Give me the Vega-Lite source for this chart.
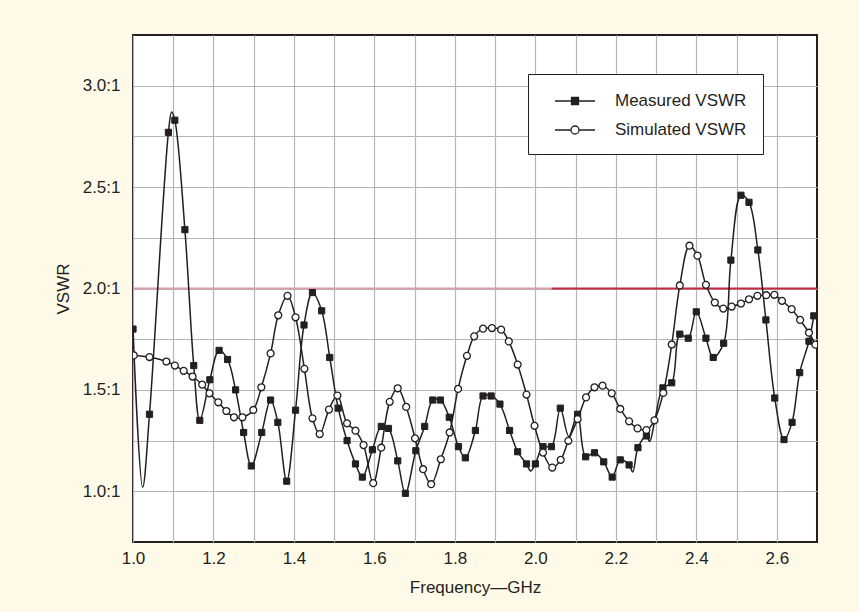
{
  "$schema": "https://vega.github.io/schema/vega-lite/v6.json",
  "width": 684,
  "height": 507,
  "autosize": "none",
  "padding": {"left": 133, "top": 35, "right": 42, "bottom": 70},
  "background": "#fffae8",
  "config": {
    "view": {"fill": "#ffffff", "stroke": "#231f20", "strokeWidth": 2},
    "font": "Liberation Sans",
    "axis": {
      "labelFont": "Liberation Sans",
      "titleFont": "Liberation Sans",
      "labelFontSize": 17,
      "titleFontSize": 17,
      "labelColor": "#231f20",
      "titleColor": "#231f20",
      "titleFontWeight": "normal",
      "domain": false,
      "ticks": false,
      "grid": true,
      "gridColor": "#b5b5b5",
      "gridWidth": 1.2,
      "gridOpacity": 1,
      "labelOverlap": false,
      "labelFlush": false
    }
  },
  "datasets": {
    "limit": [
      {"f": 1.0, "f2": 2.04, "part": "a"},
      {"f": 2.04, "f2": 2.7, "part": "b"}
    ],
    "vswr": [
      {"f": 1.000, "v": 1.80, "s": "Measured VSWR", "m": 1},
      {"f": 1.024, "v": 1.02, "s": "Measured VSWR", "m": 0},
      {"f": 1.041, "v": 1.38, "s": "Measured VSWR", "m": 1},
      {"f": 1.088, "v": 2.77, "s": "Measured VSWR", "m": 1},
      {"f": 1.096, "v": 2.87, "s": "Measured VSWR", "m": 0},
      {"f": 1.104, "v": 2.83, "s": "Measured VSWR", "m": 1},
      {"f": 1.129, "v": 2.29, "s": "Measured VSWR", "m": 1},
      {"f": 1.151, "v": 1.62, "s": "Measured VSWR", "m": 1},
      {"f": 1.166, "v": 1.35, "s": "Measured VSWR", "m": 1},
      {"f": 1.191, "v": 1.55, "s": "Measured VSWR", "m": 1},
      {"f": 1.214, "v": 1.695, "s": "Measured VSWR", "m": 1},
      {"f": 1.235, "v": 1.65, "s": "Measured VSWR", "m": 1},
      {"f": 1.255, "v": 1.50, "s": "Measured VSWR", "m": 1},
      {"f": 1.275, "v": 1.29, "s": "Measured VSWR", "m": 1},
      {"f": 1.294, "v": 1.125, "s": "Measured VSWR", "m": 1},
      {"f": 1.320, "v": 1.29, "s": "Measured VSWR", "m": 1},
      {"f": 1.342, "v": 1.45, "s": "Measured VSWR", "m": 1},
      {"f": 1.360, "v": 1.34, "s": "Measured VSWR", "m": 1},
      {"f": 1.382, "v": 1.05, "s": "Measured VSWR", "m": 1},
      {"f": 1.404, "v": 1.40, "s": "Measured VSWR", "m": 1},
      {"f": 1.425, "v": 1.82, "s": "Measured VSWR", "m": 1},
      {"f": 1.446, "v": 1.98, "s": "Measured VSWR", "m": 1},
      {"f": 1.469, "v": 1.89, "s": "Measured VSWR", "m": 1},
      {"f": 1.489, "v": 1.66, "s": "Measured VSWR", "m": 1},
      {"f": 1.510, "v": 1.41, "s": "Measured VSWR", "m": 1},
      {"f": 1.532, "v": 1.25, "s": "Measured VSWR", "m": 1},
      {"f": 1.553, "v": 1.135, "s": "Measured VSWR", "m": 1},
      {"f": 1.570, "v": 1.07, "s": "Measured VSWR", "m": 1},
      {"f": 1.595, "v": 1.205, "s": "Measured VSWR", "m": 1},
      {"f": 1.617, "v": 1.32, "s": "Measured VSWR", "m": 1},
      {"f": 1.635, "v": 1.31, "s": "Measured VSWR", "m": 1},
      {"f": 1.658, "v": 1.15, "s": "Measured VSWR", "m": 1},
      {"f": 1.677, "v": 0.99, "s": "Measured VSWR", "m": 1},
      {"f": 1.703, "v": 1.20, "s": "Measured VSWR", "m": 1},
      {"f": 1.725, "v": 1.32, "s": "Measured VSWR", "m": 1},
      {"f": 1.745, "v": 1.45, "s": "Measured VSWR", "m": 1},
      {"f": 1.764, "v": 1.45, "s": "Measured VSWR", "m": 1},
      {"f": 1.786, "v": 1.365, "s": "Measured VSWR", "m": 1},
      {"f": 1.809, "v": 1.22, "s": "Measured VSWR", "m": 1},
      {"f": 1.826, "v": 1.165, "s": "Measured VSWR", "m": 1},
      {"f": 1.851, "v": 1.30, "s": "Measured VSWR", "m": 1},
      {"f": 1.870, "v": 1.47, "s": "Measured VSWR", "m": 1},
      {"f": 1.890, "v": 1.47, "s": "Measured VSWR", "m": 1},
      {"f": 1.912, "v": 1.43, "s": "Measured VSWR", "m": 1},
      {"f": 1.936, "v": 1.30, "s": "Measured VSWR", "m": 1},
      {"f": 1.956, "v": 1.195, "s": "Measured VSWR", "m": 1},
      {"f": 1.978, "v": 1.135, "s": "Measured VSWR", "m": 1},
      {"f": 1.988, "v": 1.10, "s": "Measured VSWR", "m": 0},
      {"f": 2.000, "v": 1.135, "s": "Measured VSWR", "m": 1},
      {"f": 2.019, "v": 1.22, "s": "Measured VSWR", "m": 1},
      {"f": 2.040, "v": 1.22, "s": "Measured VSWR", "m": 1},
      {"f": 2.062, "v": 1.41, "s": "Measured VSWR", "m": 1},
      {"f": 2.083, "v": 1.27, "s": "Measured VSWR", "m": 0},
      {"f": 2.105, "v": 1.38, "s": "Measured VSWR", "m": 1},
      {"f": 2.125, "v": 1.17, "s": "Measured VSWR", "m": 1},
      {"f": 2.147, "v": 1.19, "s": "Measured VSWR", "m": 1},
      {"f": 2.170, "v": 1.145, "s": "Measured VSWR", "m": 1},
      {"f": 2.191, "v": 1.07, "s": "Measured VSWR", "m": 1},
      {"f": 2.211, "v": 1.155, "s": "Measured VSWR", "m": 1},
      {"f": 2.233, "v": 1.13, "s": "Measured VSWR", "m": 1},
      {"f": 2.242, "v": 1.095, "s": "Measured VSWR", "m": 0},
      {"f": 2.255, "v": 1.215, "s": "Measured VSWR", "m": 1},
      {"f": 2.276, "v": 1.273, "s": "Measured VSWR", "m": 1},
      {"f": 2.284, "v": 1.245, "s": "Measured VSWR", "m": 0},
      {"f": 2.297, "v": 1.35, "s": "Measured VSWR", "m": 0},
      {"f": 2.317, "v": 1.51, "s": "Measured VSWR", "m": 1},
      {"f": 2.339, "v": 1.535, "s": "Measured VSWR", "m": 1},
      {"f": 2.359, "v": 1.775, "s": "Measured VSWR", "m": 1},
      {"f": 2.380, "v": 1.755, "s": "Measured VSWR", "m": 1},
      {"f": 2.400, "v": 1.885, "s": "Measured VSWR", "m": 1},
      {"f": 2.424, "v": 1.755, "s": "Measured VSWR", "m": 1},
      {"f": 2.442, "v": 1.66, "s": "Measured VSWR", "m": 1},
      {"f": 2.468, "v": 1.73, "s": "Measured VSWR", "m": 1},
      {"f": 2.486, "v": 2.14, "s": "Measured VSWR", "m": 1},
      {"f": 2.511, "v": 2.46, "s": "Measured VSWR", "m": 1},
      {"f": 2.531, "v": 2.425, "s": "Measured VSWR", "m": 1},
      {"f": 2.553, "v": 2.19, "s": "Measured VSWR", "m": 1},
      {"f": 2.573, "v": 1.845, "s": "Measured VSWR", "m": 1},
      {"f": 2.595, "v": 1.46, "s": "Measured VSWR", "m": 1},
      {"f": 2.618, "v": 1.255, "s": "Measured VSWR", "m": 1},
      {"f": 2.638, "v": 1.34, "s": "Measured VSWR", "m": 1},
      {"f": 2.657, "v": 1.585, "s": "Measured VSWR", "m": 1},
      {"f": 2.680, "v": 1.74, "s": "Measured VSWR", "m": 1},
      {"f": 2.692, "v": 1.865, "s": "Measured VSWR", "m": 1},
      {"f": 1.002, "v": 1.67, "s": "Simulated VSWR", "m": 1},
      {"f": 1.041, "v": 1.662, "s": "Simulated VSWR", "m": 1},
      {"f": 1.083, "v": 1.64, "s": "Simulated VSWR", "m": 1},
      {"f": 1.104, "v": 1.62, "s": "Simulated VSWR", "m": 1},
      {"f": 1.126, "v": 1.594, "s": "Simulated VSWR", "m": 1},
      {"f": 1.148, "v": 1.566, "s": "Simulated VSWR", "m": 1},
      {"f": 1.172, "v": 1.526, "s": "Simulated VSWR", "m": 1},
      {"f": 1.190, "v": 1.483, "s": "Simulated VSWR", "m": 1},
      {"f": 1.212, "v": 1.439, "s": "Simulated VSWR", "m": 1},
      {"f": 1.232, "v": 1.396, "s": "Simulated VSWR", "m": 1},
      {"f": 1.251, "v": 1.365, "s": "Simulated VSWR", "m": 1},
      {"f": 1.272, "v": 1.365, "s": "Simulated VSWR", "m": 1},
      {"f": 1.299, "v": 1.401, "s": "Simulated VSWR", "m": 1},
      {"f": 1.319, "v": 1.513, "s": "Simulated VSWR", "m": 1},
      {"f": 1.342, "v": 1.68, "s": "Simulated VSWR", "m": 1},
      {"f": 1.361, "v": 1.868, "s": "Simulated VSWR", "m": 1},
      {"f": 1.384, "v": 1.964, "s": "Simulated VSWR", "m": 1},
      {"f": 1.404, "v": 1.858, "s": "Simulated VSWR", "m": 1},
      {"f": 1.426, "v": 1.604, "s": "Simulated VSWR", "m": 1},
      {"f": 1.446, "v": 1.36, "s": "Simulated VSWR", "m": 1},
      {"f": 1.464, "v": 1.282, "s": "Simulated VSWR", "m": 1},
      {"f": 1.487, "v": 1.403, "s": "Simulated VSWR", "m": 1},
      {"f": 1.508, "v": 1.472, "s": "Simulated VSWR", "m": 1},
      {"f": 1.532, "v": 1.335, "s": "Simulated VSWR", "m": 1},
      {"f": 1.553, "v": 1.299, "s": "Simulated VSWR", "m": 1},
      {"f": 1.573, "v": 1.228, "s": "Simulated VSWR", "m": 1},
      {"f": 1.597, "v": 1.04, "s": "Simulated VSWR", "m": 1},
      {"f": 1.617, "v": 1.215, "s": "Simulated VSWR", "m": 1},
      {"f": 1.638, "v": 1.441, "s": "Simulated VSWR", "m": 1},
      {"f": 1.658, "v": 1.508, "s": "Simulated VSWR", "m": 1},
      {"f": 1.679, "v": 1.416, "s": "Simulated VSWR", "m": 1},
      {"f": 1.701, "v": 1.261, "s": "Simulated VSWR", "m": 1},
      {"f": 1.721, "v": 1.109, "s": "Simulated VSWR", "m": 1},
      {"f": 1.741, "v": 1.035, "s": "Simulated VSWR", "m": 1},
      {"f": 1.765, "v": 1.158, "s": "Simulated VSWR", "m": 1},
      {"f": 1.787, "v": 1.29, "s": "Simulated VSWR", "m": 1},
      {"f": 1.808, "v": 1.505, "s": "Simulated VSWR", "m": 1},
      {"f": 1.830, "v": 1.668, "s": "Simulated VSWR", "m": 1},
      {"f": 1.848, "v": 1.764, "s": "Simulated VSWR", "m": 1},
      {"f": 1.870, "v": 1.802, "s": "Simulated VSWR", "m": 1},
      {"f": 1.892, "v": 1.805, "s": "Simulated VSWR", "m": 1},
      {"f": 1.915, "v": 1.797, "s": "Simulated VSWR", "m": 1},
      {"f": 1.934, "v": 1.739, "s": "Simulated VSWR", "m": 1},
      {"f": 1.956, "v": 1.625, "s": "Simulated VSWR", "m": 1},
      {"f": 1.978, "v": 1.477, "s": "Simulated VSWR", "m": 1},
      {"f": 1.998, "v": 1.323, "s": "Simulated VSWR", "m": 1},
      {"f": 2.019, "v": 1.191, "s": "Simulated VSWR", "m": 1},
      {"f": 2.042, "v": 1.117, "s": "Simulated VSWR", "m": 1},
      {"f": 2.063, "v": 1.155, "s": "Simulated VSWR", "m": 1},
      {"f": 2.082, "v": 1.249, "s": "Simulated VSWR", "m": 1},
      {"f": 2.105, "v": 1.356, "s": "Simulated VSWR", "m": 1},
      {"f": 2.126, "v": 1.463, "s": "Simulated VSWR", "m": 1},
      {"f": 2.147, "v": 1.513, "s": "Simulated VSWR", "m": 1},
      {"f": 2.167, "v": 1.521, "s": "Simulated VSWR", "m": 1},
      {"f": 2.190, "v": 1.483, "s": "Simulated VSWR", "m": 1},
      {"f": 2.211, "v": 1.406, "s": "Simulated VSWR", "m": 1},
      {"f": 2.233, "v": 1.345, "s": "Simulated VSWR", "m": 1},
      {"f": 2.254, "v": 1.31, "s": "Simulated VSWR", "m": 1},
      {"f": 2.276, "v": 1.302, "s": "Simulated VSWR", "m": 1},
      {"f": 2.296, "v": 1.35, "s": "Simulated VSWR", "m": 1},
      {"f": 2.318, "v": 1.485, "s": "Simulated VSWR", "m": 1},
      {"f": 2.339, "v": 1.724, "s": "Simulated VSWR", "m": 1},
      {"f": 2.359, "v": 2.015, "s": "Simulated VSWR", "m": 1},
      {"f": 2.383, "v": 2.211, "s": "Simulated VSWR", "m": 1},
      {"f": 2.403, "v": 2.162, "s": "Simulated VSWR", "m": 1},
      {"f": 2.424, "v": 2.018, "s": "Simulated VSWR", "m": 1},
      {"f": 2.446, "v": 1.931, "s": "Simulated VSWR", "m": 1},
      {"f": 2.467, "v": 1.901, "s": "Simulated VSWR", "m": 1},
      {"f": 2.488, "v": 1.911, "s": "Simulated VSWR", "m": 1},
      {"f": 2.511, "v": 1.926, "s": "Simulated VSWR", "m": 1},
      {"f": 2.531, "v": 1.947, "s": "Simulated VSWR", "m": 1},
      {"f": 2.552, "v": 1.964, "s": "Simulated VSWR", "m": 1},
      {"f": 2.574, "v": 1.967, "s": "Simulated VSWR", "m": 1},
      {"f": 2.594, "v": 1.969, "s": "Simulated VSWR", "m": 1},
      {"f": 2.613, "v": 1.939, "s": "Simulated VSWR", "m": 1},
      {"f": 2.637, "v": 1.898, "s": "Simulated VSWR", "m": 1},
      {"f": 2.658, "v": 1.845, "s": "Simulated VSWR", "m": 1},
      {"f": 2.680, "v": 1.782, "s": "Simulated VSWR", "m": 1},
      {"f": 2.696, "v": 1.723, "s": "Simulated VSWR", "m": 1}
    ]
  },
  "layer": [
    {
      "data": {"name": "limit"},
      "mark": {"type": "rule", "strokeWidth": 2},
      "encoding": {
        "x": {
          "field": "f", "type": "quantitative",
          "scale": {"domain": [1.0, 2.7], "nice": false, "zero": false},
          "axis": {
            "title": "Frequency—GHz",
            "grid": true,
            "values": [1.0, 1.1, 1.2, 1.3, 1.4, 1.5, 1.6, 1.7, 1.8, 1.9, 2.0, 2.1, 2.2, 2.3, 2.4, 2.5, 2.6],
            "labelExpr": "round(datum.value * 10) % 2 == 0 ? format(datum.value, '.1f') : ''",
            "labelPadding": 8,
            "titlePadding": 13
          }
        },
        "x2": {"field": "f2"},
        "y": {
          "datum": 2, "type": "quantitative",
          "scale": {"domain": [0.75, 3.25], "nice": false, "zero": false},
          "axis": {
            "title": "VSWR",
            "grid": true,
            "values": [1.0, 1.25, 1.5, 1.75, 2.0, 2.25, 2.5, 2.75, 3.0],
            "labelExpr": "datum.value % 0.5 == 0 ? format(datum.value, '.1f') + ':1' : ''",
            "labelPadding": 13,
            "titlePadding": 10
          }
        },
        "color": {
          "field": "part", "type": "nominal",
          "scale": {"domain": ["a", "b"], "range": ["#d9a0ab", "#c8283f"]},
          "legend": null
        }
      }
    },
    {
      "data": {"name": "vswr"},
      "mark": {"type": "line", "interpolate": "catmull-rom", "stroke": "#231f20", "strokeWidth": 1.5, "clip": true},
      "encoding": {
        "x": {"field": "f", "type": "quantitative", "title": "Frequency—GHz"},
        "y": {"field": "v", "type": "quantitative", "title": "VSWR"},
        "detail": {"field": "s", "type": "nominal"}
      }
    },
    {
      "data": {"name": "vswr"},
      "transform": [{"filter": "datum.m == 1 && datum.s == 'Measured VSWR'"}],
      "mark": {"type": "point", "shape": "square", "filled": true, "opacity": 1, "fill": "#231f20", "stroke": "#231f20", "strokeWidth": 1, "size": 38, "clip": true},
      "encoding": {
        "x": {"field": "f", "type": "quantitative", "title": "Frequency—GHz"},
        "y": {"field": "v", "type": "quantitative", "title": "VSWR"}
      }
    },
    {
      "data": {"name": "vswr"},
      "transform": [{"filter": "datum.m == 1 && datum.s == 'Simulated VSWR'"}],
      "mark": {"type": "point", "shape": "circle", "filled": true, "opacity": 1, "fill": "#ffffff", "stroke": "#231f20", "strokeWidth": 1.3, "size": 48, "clip": true},
      "encoding": {
        "x": {"field": "f", "type": "quantitative", "title": "Frequency—GHz"},
        "y": {"field": "v", "type": "quantitative", "title": "VSWR"}
      }
    },
    {
      "data": {"name": "vswr"},
      "transform": [{"filter": "datum.m == 9"}],
      "mark": {"type": "point", "filled": true, "opacity": 1, "strokeWidth": 1.3},
      "encoding": {
        "x": {"field": "f", "type": "quantitative", "title": "Frequency—GHz"},
        "y": {"field": "v", "type": "quantitative", "title": "VSWR"},
        "fill": {
          "field": "s", "type": "nominal",
          "scale": {"domain": ["Measured VSWR", "Simulated VSWR"], "range": ["#231f20", "#ffffff"]}
        },
        "stroke": {
          "field": "s", "type": "nominal",
          "scale": {"domain": ["Measured VSWR", "Simulated VSWR"], "range": ["#231f20", "#231f20"]}
        },
        "shape": {
          "field": "s", "type": "nominal",
          "scale": {
            "domain": ["Measured VSWR", "Simulated VSWR"],
            "range": [
              "M0,0H4M1.65,-0.35H2.35V0.35H1.65ZM1.65,-0.25H2.35M1.65,-0.15H2.35M1.65,-0.05H2.35M1.65,0.05H2.35M1.65,0.15H2.35M1.65,0.25H2.35",
              "M0,0H1.6M2.4,0H4M1.6,0A0.4,0.4,0,1,1,2.4,0A0.4,0.4,0,1,1,1.6,0Z"
            ]
          },
          "legend": {
            "title": null,
            "orient": "none",
            "legendX": 395,
            "legendY": 39,
            "padding": 16,
            "rowPadding": 10,
            "symbolSize": 400,
            "symbolOpacity": 1,
            "symbolStrokeWidth": 1.3,
            "labelOffset": 49,
            "labelFont": "Liberation Sans",
            "labelFontSize": 17,
            "labelColor": "#231f20",
            "labelLimit": 300,
            "strokeColor": "#231f20",
            "fillColor": "#ffffff"
          }
        }
      }
    }
  ]
}
